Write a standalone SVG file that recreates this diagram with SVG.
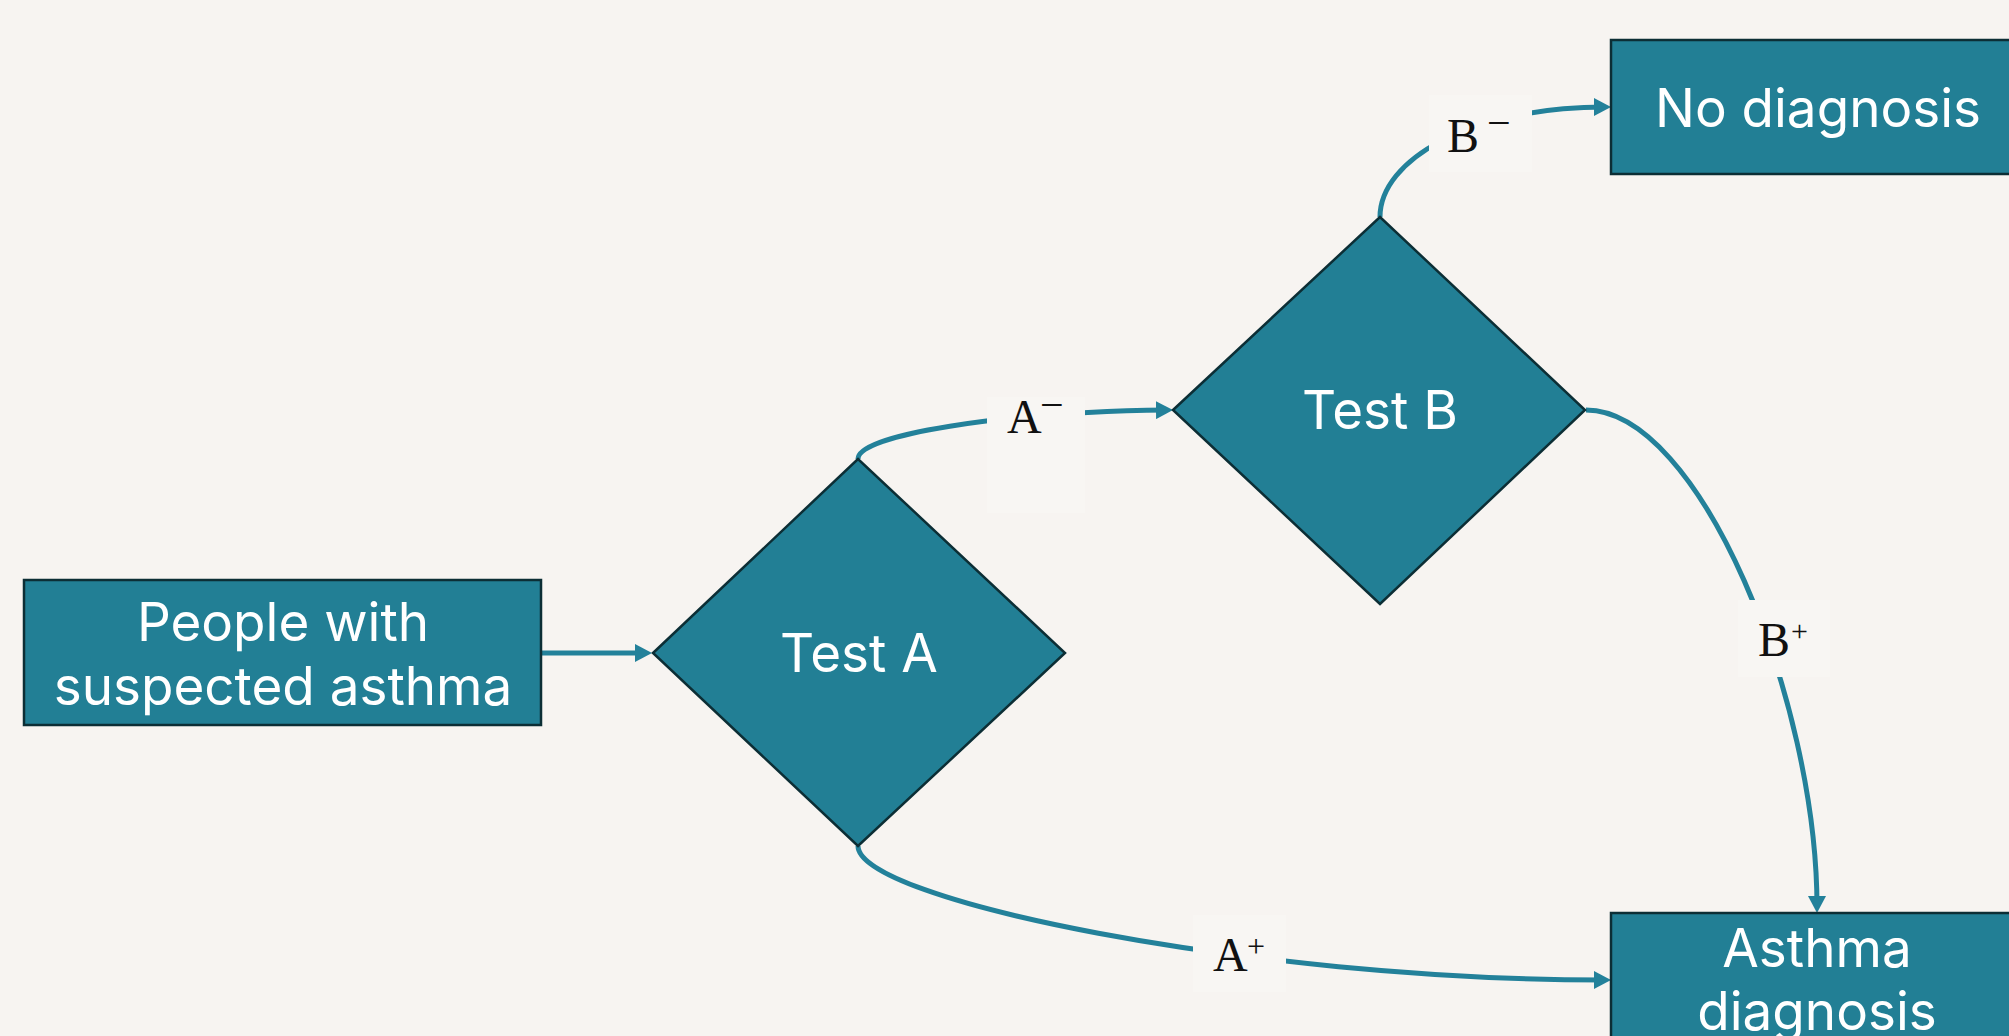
<svg xmlns="http://www.w3.org/2000/svg" width="2009" height="1036" viewBox="0 0 2009 1036">
  <defs>
    <style>
      .node { fill: #227f95; stroke: #0c2e35; stroke-width: 2.5; }
      .node-text { font-family: Inter, "Noto Sans", "Liberation Sans", sans-serif; font-size: 53px; fill: #ffffff; text-anchor: middle; }
      .edge { fill: none; stroke: #23819a; stroke-width: 5; }
      .label-bg { fill: #f8f6f3; }
      .label { font-family: "Liberation Serif", "DejaVu Serif", serif; fill: #111111; }
    </style>
    <marker id="arrow" viewBox="0 0 17 18" refX="11" refY="9" markerWidth="17" markerHeight="18" markerUnits="userSpaceOnUse" orient="auto">
      <path d="M0,0 L17,9 L0,18 z" fill="#23819a"/>
    </marker>
  </defs>

  <rect x="0" y="0" width="2009" height="1036" fill="#f7f4f1"/>

  <!-- connectors -->
  <g id="connectors">
    <path class="edge" d="M541,653 L646,653" marker-end="url(#arrow)"/>
    <path class="edge" d="M858,459 C858,435 1000,412 1167,410" marker-end="url(#arrow)"/>
    <path class="edge" d="M1380,217 C1380,160 1470,107 1605,107" marker-end="url(#arrow)"/>
    <path class="edge" d="M1586,410 C1700,410 1817,700 1817,907" marker-end="url(#arrow)"/>
    <path class="edge" d="M858,846 C858,900 1250,980 1605,980" marker-end="url(#arrow)"/>
  </g>

  <!-- edge labels -->
  <g id="edge-labels">
    <g id="label-a-minus">
      <rect class="label-bg" x="987" y="397" width="98" height="116"/>
      <text class="label" x="1007" y="433" font-size="48">A</text>
      <text class="label" x="1040" y="419" font-size="42">−</text>
    </g>
    <g id="label-b-minus">
      <rect class="label-bg" x="1429" y="95" width="103" height="77"/>
      <text class="label" x="1447" y="152" font-size="48">B</text>
      <text class="label" x="1487" y="137" font-size="42">−</text>
    </g>
    <g id="label-b-plus">
      <rect class="label-bg" x="1738" y="600" width="92" height="77"/>
      <text class="label" x="1758" y="656" font-size="48">B</text>
      <text class="label" x="1791" y="641" font-size="30">+</text>
    </g>
    <g id="label-a-plus">
      <rect class="label-bg" x="1193" y="915" width="93" height="77"/>
      <text class="label" x="1213" y="971" font-size="48">A</text>
      <text class="label" x="1247" y="957" font-size="32">+</text>
    </g>
  </g>

  <!-- nodes -->
  <g id="node-people">
    <rect class="node" x="24" y="580" width="517" height="145"/>
    <text class="node-text" x="283" y="641">People with</text>
    <text class="node-text" x="283" y="705">suspected asthma</text>
  </g>
  <g id="node-test-a">
    <polygon class="node" points="653,653 858,459 1065,653 858,846"/>
    <text class="node-text" x="859" y="672">Test A</text>
  </g>
  <g id="node-test-b">
    <polygon class="node" points="1173,410 1380,217 1585,410 1380,604"/>
    <text class="node-text" x="1380" y="429">Test B</text>
  </g>
  <g id="node-no-diagnosis">
    <rect class="node" x="1611" y="40" width="430" height="134"/>
    <text class="node-text" x="1818" y="127">No diagnosis</text>
  </g>
  <g id="node-asthma-diagnosis">
    <rect class="node" x="1611" y="913" width="430" height="160"/>
    <text class="node-text" x="1817" y="967">Asthma</text>
    <text class="node-text" x="1817" y="1030">diagnosis</text>
  </g>
</svg>
